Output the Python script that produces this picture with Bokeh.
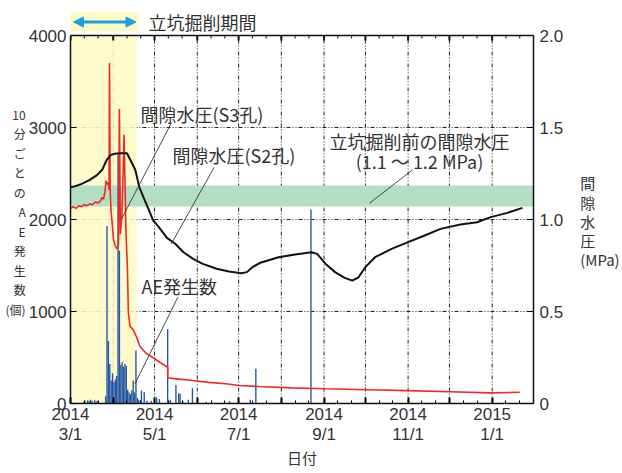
import numpy as np
import pandas as pd
from bokeh.plotting import figure
from bokeh.models import (Range1d, LinearAxis, FixedTicker, BoxAnnotation,
                          Label, Arrow, NormalHead, Span)
from bokeh.embed import file_html
from bokeh.resources import INLINE

# ---------------- data ----------------
START = pd.Timestamp("2014-03-01")
END = pd.Timestamp("2015-01-31")
excav_start = pd.Timestamp("2014-02-20")
excav_end = pd.Timestamp("2014-04-18")

# AE events per day (day offset from 2014-03-01, count)
ae_day = [9, 10, 12, 13, 14, 15, 17, 18, 19,
          25, 26, 27, 28, 29, 30, 31, 32, 33, 34, 35, 36, 37, 38, 39, 40,
          41, 42, 43, 44, 45, 46, 47, 48, 49, 51, 53, 55, 58, 62, 64,
          70, 72, 76, 78, 79, 81, 85, 88, 98, 115, 130, 134, 174]
ae_count = [20, 30, 35, 25, 40, 30, 35, 20, 30,
            80, 1930, 680, 430, 250, 330, 230, 260, 300, 2710, 1660, 420, 450, 400, 430, 410,
            150, 120, 100, 140, 250, 120, 576, 60, 40, 140, 123, 30, 30, 69, 50,
            810, 40, 200, 110, 110, 30, 40, 165, 20, 25, 40, 377, 2110]

# pore pressure S3 borehole (MPa)
s3_day = [0, 2, 4, 6, 8, 10, 12, 14, 16, 18,
          20, 21.6, 23, 24, 25, 25.9, 26.8, 27.6, 28.0, 28.3,
          28.8, 29.4, 30, 31.2, 32.4, 33.6, 34.8, 35.5, 36.2, 37.2,
          37.9, 38.9, 39.6, 40.3, 41.3, 42, 43.2, 45.6, 48, 50.4,
          55.2, 57.6, 64.8, 70.5, 70.6, 75, 88.8, 100, 112.8, 122.4,
          136.8, 160, 184.8, 215, 244.8, 275, 304.5, 326]
s3_mpa = [1.06, 1.07, 1.06, 1.075, 1.07, 1.08, 1.075, 1.085, 1.08, 1.095,
          1.09, 1.10, 1.12, 1.11, 1.15, 1.21, 1.19, 1.20, 1.16, 1.85,
          1.16, 1.05, 1.0, 0.89, 0.86, 0.84, 0.86, 1.60, 0.92, 1.01,
          1.18, 1.46, 1.18, 0.92, 0.74, 0.49, 0.42, 0.40, 0.36, 0.31,
          0.27, 0.26, 0.224, 0.197, 0.14, 0.135, 0.125, 0.115, 0.107, 0.098,
          0.092, 0.085, 0.08, 0.075, 0.07, 0.064, 0.058, 0.061]

# pore pressure S2 borehole (MPa)
s2_day = [0, 3, 7, 10, 14, 19, 23, 26, 29, 32,
          36, 41, 43, 47, 50, 53, 56, 60, 64, 70,
          76, 82, 89, 96, 106, 115, 124, 128, 132, 137,
          139, 151, 163, 175, 179, 185, 192, 199, 204.5, 209,
          214, 221, 233, 245, 257, 268.5, 283, 295, 305, 317, 328]
s2_mpa = [1.175, 1.18, 1.19, 1.20, 1.215, 1.24, 1.27, 1.32, 1.35, 1.357,
          1.36, 1.36, 1.33, 1.27, 1.175, 1.12, 1.067, 0.995, 0.96, 0.90,
          0.868, 0.822, 0.786, 0.759, 0.732, 0.717, 0.708, 0.714, 0.741, 0.762,
          0.768, 0.795, 0.81, 0.822, 0.813, 0.76, 0.714, 0.683, 0.668, 0.686,
          0.741, 0.795, 0.84, 0.877, 0.913, 0.949, 0.973, 0.985, 1.013, 1.036, 1.063]

band_mpa = [1.07, 1.185]   # pre-excavation pore pressure band

left_ticks = [0, 1000, 2000, 3000, 4000]
right_ticks = [0, 0.5, 1.0, 1.5, 2.0]
right_labels = ["0", "0.5", "1.0", "1.5", "2.0"]
month_starts = pd.date_range("2014-03-01", "2015-01-01", freq="MS")

assert len(ae_day) == len(ae_count)
assert len(s3_day) == len(s3_mpa)
assert len(s2_day) == len(s2_mpa)

# ---------------- helpers ----------------
def ms(ts):
    return ts.value / 1e6

def days_to_dt(days, offset_h=0.0):
    return START + pd.to_timedelta(np.asarray(days, dtype=float) * 24 + offset_h, unit="h")

DAY_MS = 86400000.0
FONT = "Noto Sans CJK JP"
NUM_FONT = "Liberation Sans"
TXT = "#333333"

# frame: the plot area runs from canvas top (y=0) down to the 0-line at y=403;
# the visible chart box (0..4000) occupies y=35..403.
F_L, F_R, F_T, F_B = 70.0, 537.0, 35.0, 403.0
Y_MAX = 4000.0
Y_TOP = Y_MAX * F_B / (F_B - F_T)          # value at canvas top
PX_Y = Y_MAX / (F_B - F_T)                  # data units per pixel (left axis)

def px2x(px):
    return ms(START) + (px - F_L) / (F_R - F_L) * (ms(END) - ms(START))
def py2y(py):
    return (F_B - py) * PX_Y

# ---------------- figure ----------------
p = figure(width=622, height=473, x_axis_type="datetime",
           x_range=Range1d(ms(START), ms(END)), y_range=Range1d(0, Y_TOP),
           output_backend="svg", toolbar_location=None,
           min_border_left=70, min_border_right=85, min_border_top=0, min_border_bottom=70)
p.extra_y_ranges = {"mpa": Range1d(0, Y_TOP / 2000.0)}
p.background_fill_color = "white"
p.border_fill_color = "white"
p.outline_line_color = None
p.xgrid.visible = False

month_ms = [ms(t) for t in month_starts]
minor_ms = []
for t in month_starts:
    for d in (10, 20):
        tt = t + pd.Timedelta(days=d)
        if tt <= END:
            minor_ms.append(ms(tt))
overrides = {}
for i, t in enumerate(month_starts):
    overrides[ms(t)] = (f"{t.year}\n{t.month}/1") if i % 2 == 0 else ""

xa = p.xaxis[0]
xa.ticker = FixedTicker(ticks=month_ms, minor_ticks=minor_ms)
xa.major_label_overrides = overrides
xa.major_tick_in = 6
xa.major_tick_out = 0
xa.minor_tick_in = 3
xa.minor_tick_out = 0
xa.major_tick_line_width = 2
xa.major_label_standoff = 1
xa.major_label_text_font = NUM_FONT
xa.major_label_text_font_size = "17px"
xa.major_label_text_line_height = 1.1
xa.major_label_text_color = TXT
xa.axis_line_width = 1.5
xa.axis_line_color = "#111111"
xa.axis_label = "日付"
xa.axis_label_standoff = 0
xa.axis_label_text_font = FONT
xa.axis_label_text_font_size = "15px"
xa.axis_label_text_font_style = "normal"
xa.axis_label_text_color = TXT

ya = p.yaxis[0]
ya.ticker = FixedTicker(ticks=left_ticks)
ya.bounds = (0, Y_MAX)
ya.major_tick_in = 6
ya.major_tick_out = 0
ya.minor_tick_in = 0
ya.minor_tick_out = 0
ya.major_label_standoff = 4
ya.major_label_text_font = NUM_FONT
ya.major_label_text_font_size = "17px"
ya.major_label_text_color = TXT
ya.axis_line_width = 1.5
ya.axis_line_color = "#111111"
ya.axis_label = "\n10\n分\nご\nと\nの\nA\nE\n発\n生\n数\n(個)"
ya.axis_label_orientation = "horizontal"
ya.axis_label_standoff = 0
ya.axis_label_text_font = FONT
ya.axis_label_text_font_size = "12px"
ya.axis_label_text_font_style = "normal"
ya.axis_label_text_line_height = 1.15
ya.axis_label_text_color = TXT

ra = LinearAxis(y_range_name="mpa", ticker=FixedTicker(ticks=right_ticks),
                bounds=(0, 2.0),
                major_label_overrides={v: s for v, s in zip(right_ticks, right_labels)},
                major_tick_in=6, major_tick_out=0, minor_tick_in=0, minor_tick_out=0,
                major_label_standoff=6, major_label_text_font=NUM_FONT,
                major_label_text_font_size="17px", major_label_text_color=TXT,
                axis_line_width=1.5, axis_line_color="#111111",
                axis_label="\n\n間\n隙\n水\n圧\n(MPa)", axis_label_orientation="horizontal",
                axis_label_standoff=14, axis_label_text_font=FONT,
                axis_label_text_font_size="15px", axis_label_text_font_style="normal",
                axis_label_text_line_height=0.92, axis_label_text_color=TXT)
p.add_layout(ra, "right")

p.ygrid[0].ticker = FixedTicker(ticks=[1000, 2000, 3000])
p.ygrid[0].grid_line_color = "#222222"
p.ygrid[0].grid_line_dash = "4 2 1 2 1 2"
p.ygrid[0].grid_line_width = 1

# vertical month grid lines, limited to the chart box
p.segment(x0=month_ms, y0=[0] * len(month_ms), x1=month_ms, y1=[Y_MAX] * len(month_ms),
          line_color="#222222", line_dash="4 2 1 2 1 2", line_width=1)

# excavation period shading
p.quad(left=[excav_start], right=[excav_end], bottom=[0], top=[Y_MAX],
       fill_color="#fff9c2", fill_alpha=0.85, line_color=None)
# pre-excavation pore pressure band
p.quad(left=[START - pd.Timedelta(days=5)], right=[END + pd.Timedelta(days=5)],
       bottom=[band_mpa[0]], top=[band_mpa[1]], y_range_name="mpa",
       fill_color="#b4dec3", line_color=None)
# AE bars
p.vbar(x=days_to_dt(ae_day, 12), top=ae_count, width=1.0 * DAY_MS,
       fill_color="#2357a6", line_color=None)
# S3 pore pressure (red)
p.line(days_to_dt(s3_day), s3_mpa, y_range_name="mpa", line_color="#ee2a24", line_width=1.6)
# S2 pore pressure (black)
p.line(days_to_dt(s2_day), s2_mpa, y_range_name="mpa", line_color="#111111", line_width=2)

# top edge of the chart box and its inward ticks
p.add_layout(Span(location=Y_MAX, dimension="width", line_color="#111111", line_width=1.5))
p.segment(x0=month_ms, y0=[Y_MAX] * len(month_ms), x1=month_ms,
          y1=[Y_MAX - 5 * PX_Y] * len(month_ms), line_color="#111111", line_width=2)
p.segment(x0=minor_ms, y0=[Y_MAX] * len(minor_ms), x1=minor_ms,
          y1=[Y_MAX - 3 * PX_Y] * len(minor_ms), line_color="#111111", line_width=1)

# leader lines (canvas-pixel layout -> data)
leaders = [((172, 122), (121.7, 218)),
           ((215, 166.7), (171.7, 243.3)),
           ((178.3, 296.7), (135, 383.3)),
           ((415, 169.3), (371.7, 202.7))]
p.segment(x0=[px2x(a[0]) for a, b in leaders], y0=[py2y(a[1]) for a, b in leaders],
          x1=[px2x(b[0]) for a, b in leaders], y1=[py2y(b[1]) for a, b in leaders],
          line_color="#333333", line_width=0.9)

# top yellow box + arrow for excavation period (canvas units)
p.add_layout(BoxAnnotation(left=70, right=137.7, top=11.7, bottom=30.7,
                           left_units="canvas", right_units="canvas",
                           top_units="canvas", bottom_units="canvas",
                           fill_color="#fff9c2", fill_alpha=1.0, line_color=None))
head = dict(size=10, fill_color="#19a1e6", line_color="#19a1e6")
p.add_layout(Arrow(x_start=73, y_start=21.5, x_end=135.5, y_end=21.5,
                   start_units="canvas", end_units="canvas",
                   start=NormalHead(**head), end=NormalHead(**head),
                   line_color="#19a1e6", line_width=3))

def lab(px, py, text, size="18px", align="left", baseline="middle"):
    p.add_layout(Label(x=px, y=py, x_units="canvas", y_units="canvas", text=text,
                       text_font=FONT, text_font_size=size, text_color=TXT,
                       text_align=align, text_baseline=baseline))

lab(148, 21.7, "立坑掘削期間")
lab(140, 113, "間隙水圧(S3孔)")
lab(172, 154, "間隙水圧(S2孔)")
lab(141, 285, "AE発生数")
lab(419, 140, "立坑掘削前の間隙水圧", align="center")
lab(419, 160, "(1.1 ～ 1.2 MPa)", align="center")

open("out.html", "w").write(file_html(p, INLINE))
